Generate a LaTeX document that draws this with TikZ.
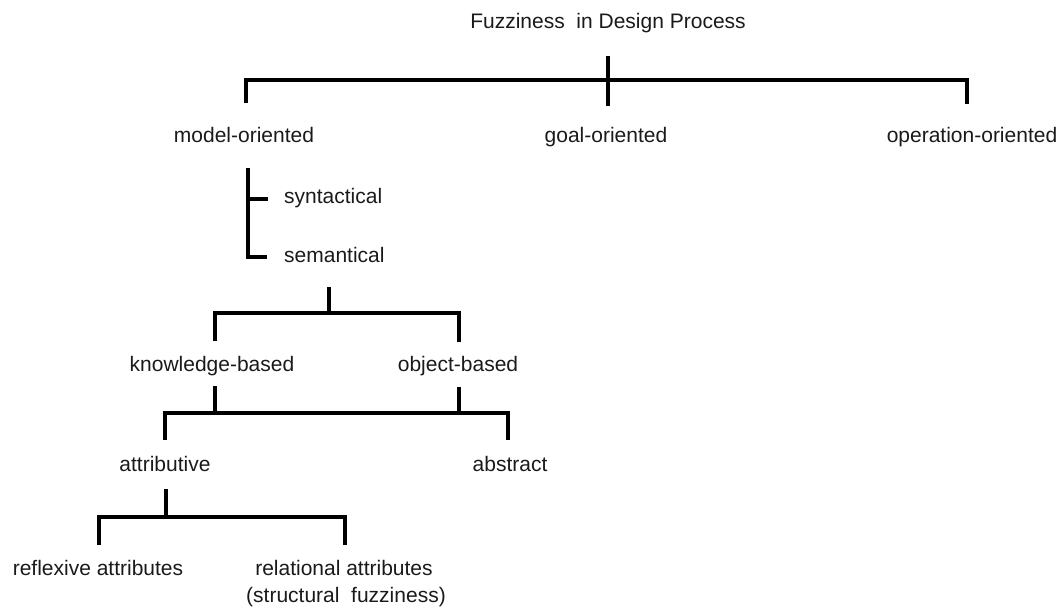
\documentclass[tikz,border=0pt]{standalone}
\usepackage{fontspec}
\setmainfont{Liberation Sans}
\usetikzlibrary{calc}
\definecolor{ink}{HTML}{1A1A1A}
\begin{document}
\begin{tikzpicture}[x=1pt,y=-1pt,
  label/.style={inner sep=0pt,text=ink,font=\fontsize{21}{28}\selectfont,
    text height=15pt,text depth=4pt},
  br/.style={draw=black,line width=3.5pt,line cap=butt,line join=miter}]
\useasboundingbox (0,0) rectangle (1062,608);

% labels
\node[label] (title) at (608,23) {Fuzziness\ \ in Design Process};
\node[label] (model) at (244,137) {model-oriented};
\node[label] (goal)  at (606,137) {goal-oriented};
\node[label] (opor)  at (972,137) {operation-oriented};
\node[label,anchor=west] (syn) at (284,198) {syntactical};
\node[label,anchor=west] (sem) at (284,257) {semantical};
\node[label] (know) at (212,366) {knowledge-based};
\node[label] (obj)  at (458,366) {object-based};
\node[label] (attr) at (165,466) {attributive};
\node[label] (abs)  at (510,466) {abstract};
\node[label] (refl) at (98,570) {reflexive attributes};
\node[label] (rel)  at (344,570) {relational attributes};
\node[label] (relnote) at (346,597) {(structural\ \ fuzziness)};

% top level bracket
\draw[br] ($(model)+(2,-34)$) |- ($(opor)+(-5,-57)$) -- ($(opor)+(-5,-33)$);
\draw[br] ($(title)+(0,33)$) -- ($(goal)+(2,-31)$);

% model-oriented split
\draw[br] ($(model)+(4,31)$) |- ($(sem.west)+(-17,0)$);
\draw[br] ($(syn.west)+(-36,1)$) -- ($(syn.west)+(-16,1)$);

% semantical split
\draw[br] ($(sem.west)+(45,30)$) -- ($(sem.west)+(45,56)$);
\draw[br] ($(know)+(3,-25)$) |- ($(obj)+(1,-53)$) -- ($(obj)+(1,-24)$);

% knowledge-based / object-based join
\draw[br] ($(know)+(3,20)$) -- ($(know)+(3,47)$);
\draw[br] ($(obj)+(1,21)$) -- ($(obj)+(1,47)$);
\draw[br] ($(attr)+(0,-26)$) |- ($(abs)+(-2,-53)$) -- ($(abs)+(-2,-26)$);

% attributive split
\draw[br] ($(attr)+(1,23)$) -- ($(attr)+(1,51)$);
\draw[br] ($(refl)+(1,-25)$) |- ($(rel)+(1,-53)$) -- ($(rel)+(1,-25)$);
\end{tikzpicture}
\end{document}
